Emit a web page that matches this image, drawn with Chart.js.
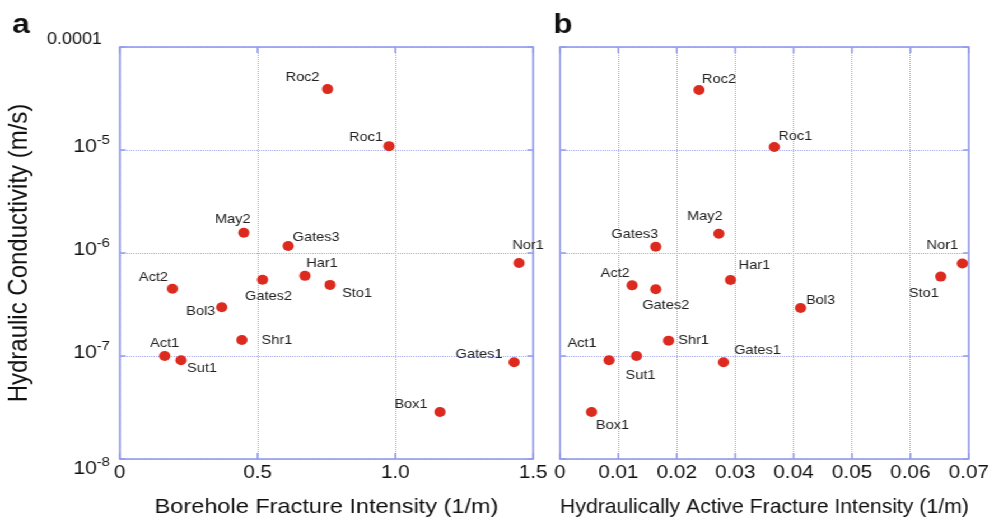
<!DOCTYPE html>
<html>
<head>
<meta charset="utf-8">
<script src="https://cdn.jsdelivr.net/npm/chart.js@4/dist/chart.umd.min.js"></script>
<style>
  html, body { margin: 0; background: #fff; overflow: hidden; }
  /* the reference figure is stretched sideways, so the whole drawing is too */
  #wrap { position: relative; width: 886px; height: 518px; transform: scaleX(1.12); transform-origin: 0 0; }
  #cA { position: absolute; left: 0; top: 0; }
  #cB { position: absolute; left: 480px; top: 0; }
</style>
</head>
<body>
<div id="wrap">
  <canvas id="cA" width="495" height="518"></canvas>
  <canvas id="cB" width="406" height="518"></canvas>
</div>
<script>
// ---- data ----
const names = ['Roc2', 'Roc1', 'May2', 'Gates3', 'Nor1', 'Act2', 'Gates2', 'Har1',
    'Sto1', 'Bol3', 'Shr1', 'Act1', 'Sut1', 'Gates1', 'Box1'];

// a: borehole fracture intensity (1/m)
const bfi = [0.754, 0.977, 0.450, 0.611, 1.449, 0.191, 0.518, 0.672,
    0.763, 0.370, 0.443, 0.163, 0.222, 1.431, 1.162];
const kA = [3.9e-5, 1.09e-5, 1.57e-6, 1.17e-6, 8.0e-7, 4.5e-7, 5.5e-7, 6.0e-7,
    4.9e-7, 2.97e-7, 1.43e-7, 1.0e-7, 9.1e-8, 8.7e-8, 2.86e-8];

// b: hydraulically active fracture intensity (1/m)
const hafi = [0.0238, 0.0367, 0.0272, 0.0164, 0.0689, 0.01235, 0.0164, 0.0292,
    0.0652, 0.0412, 0.0186, 0.0084, 0.0131, 0.0280, 0.0054];
const kB = [3.83e-5, 1.07e-5, 1.54e-6, 1.15e-6, 7.9e-7, 4.85e-7, 4.45e-7, 5.47e-7,
    5.9e-7, 2.92e-7, 1.41e-7, 9.1e-8, 1.0e-7, 8.7e-8, 2.86e-8];

const xTicksA = [0, 0.5, 1, 1.5];
const xTicksB = [0, 0.01, 0.02, 0.03, 0.04, 0.05, 0.06, 0.07];
const yTicks = [1e-8, 1e-7, 1e-6, 1e-5, 1e-4];
const yTickBase = ['10', '10', '10', '10', '0.0001'];
const yTickExp = ['-8', '-7', '-6', '-5', ''];

// label placement: text centre relative to the point, screen px
const labOffA = [[-25, -12], [-23, -9], [-11, -13], [28, -9], [9, -18], [-19, -11], [6, 17], [17, -12],
    [27, 9], [-21, 4], [35, 0], [0, -13], [21, 8], [-35, -8], [-29, -8]];
const labOffB = [[20, -11], [21, -11], [-14, -17], [-21, -12], [-20, -18], [-17, -12], [10, 16], [24, -15],
    [-17, 17], [20, -8], [25, 0], [-27, -17], [4, 19], [34, -12], [21, 13]];
// vertical nudge of each y tick label against its grid line
const yTickShift = [10, -3, -3, -3, -7];

// ---- style ----
const S = 1.12;
const RED = '#dd2a1e';
const BORDER = '#939cee';
const GRID = '#9ea5f0';
const FONT = "'Liberation Sans', Arial, sans-serif";
Chart.defaults.font.family = FONT;

function makeDecor(cfg) {
    return {
        id: 'decor',
        beforeDatasetsDraw(chart) {
            const { ctx, chartArea: a, scales: { x, y } } = chart;
            ctx.save();
            ctx.strokeStyle = BORDER;
            ctx.lineWidth = 1.6;
            ctx.strokeRect(a.left, a.top, a.right - a.left, a.bottom - a.top);
            ctx.beginPath();
            x.ticks.forEach(t => {
                const px = x.getPixelForValue(t.value);
                ctx.moveTo(px, a.bottom); ctx.lineTo(px, a.bottom - 6);
                ctx.moveTo(px, a.top); ctx.lineTo(px, a.top + 6);
            });
            y.ticks.forEach(t => {
                const py = y.getPixelForValue(t.value);
                ctx.moveTo(a.left, py); ctx.lineTo(a.left + 6 / S, py);
                ctx.moveTo(a.right, py); ctx.lineTo(a.right - 6 / S, py);
            });
            ctx.stroke();
            ctx.restore();
        },
        afterDatasetsDraw(chart) {
            const { ctx, chartArea: a, scales: { y } } = chart;
            ctx.save();
            ctx.fillStyle = '#222';
            ctx.textAlign = 'center';
            ctx.textBaseline = 'middle';
            ctx.font = '13px ' + FONT;
            chart.getDatasetMeta(0).data.forEach((pt, i) => {
                const [dx, dy] = cfg.offsets[i];
                ctx.fillText(names[i], pt.x + dx / S, pt.y + dy);
            });

            // panel letter
            ctx.fillStyle = '#111';
            ctx.textAlign = 'left';
            ctx.textBaseline = 'alphabetic';
            ctx.font = 'bold 28px ' + FONT;
            ctx.fillText(cfg.letter, cfg.letterX, 33);

            // y tick labels with superscript exponents (panel a only)
            if (cfg.yLabels) {
                ctx.textAlign = 'right';
                ctx.textBaseline = 'middle';
                yTicks.forEach((v, i) => {
                    const py = y.getPixelForValue(v) + yTickShift[i];
                    if (yTickExp[i]) {
                        const ex = a.left - 10 / S;
                        ctx.font = '13px ' + FONT;
                        ctx.fillText(yTickExp[i], ex, py - 7);
                        const w = ctx.measureText(yTickExp[i]).width;
                        ctx.font = '19px ' + FONT;
                        ctx.fillText(yTickBase[i], ex - w, py);
                    } else {
                        ctx.font = '16px ' + FONT;
                        ctx.fillText(yTickBase[i], a.left - 18 / S, py);
                    }
                });
            }
            ctx.restore();
        }
    };
}

function makeChart(id, xs, ys, xTicks, xTitle, cfg) {
    const data = xs.map((x, i) => ({ x, y: ys[i] }));
    return new Chart(document.getElementById(id), {
        type: 'scatter',
        data: {
            datasets: [{
                data, backgroundColor: RED, borderWidth: 0, pointRadius: 5,
                pointHoverRadius: 5, clip: false,
            }]
        },
        options: {
            responsive: false,
            animation: false,
            events: [],
            layout: { padding: { top: 47, right: cfg.padRight, bottom: 0, left: 0 } },
            plugins: { legend: { display: false }, tooltip: { enabled: false } },
            scales: {
                x: {
                    type: 'linear', min: xTicks[0], max: xTicks[xTicks.length - 1],
                    afterBuildTicks: s => { s.ticks = xTicks.map(v => ({ value: v })); },
                    afterFit: s => { s.height = 59; },
                    grid: { color: GRID, lineWidth: 1, drawTicks: false },
                    border: { display: false, dash: [1, 1] },
                    ticks: { color: '#111', font: { size: 18.5 }, padding: 3, maxRotation: 0, autoSkip: false },
                    title: {
                        display: true, text: xTitle, color: '#111',
                        font: { size: 21, lineHeight: 1 }, padding: 0
                    }
                },
                y: {
                    type: 'logarithmic', min: yTicks[0], max: yTicks[yTicks.length - 1],
                    afterBuildTicks: s => { s.ticks = yTicks.map(v => ({ value: v })); },
                    afterFit: s => { s.width = cfg.yWidth; },
                    grid: { color: GRID, lineWidth: 1, drawTicks: false },
                    border: { display: false, dash: [1, 1] },
                    ticks: { display: false },
                    title: {
                        display: !!cfg.yTitle, text: cfg.yTitle || '', color: '#111',
                        font: { size: 24, lineHeight: 1 }, padding: { top: 5, bottom: 0 }
                    }
                }
            }
        },
        plugins: [makeDecor(cfg)]
    });
}

makeChart('cA', bfi, kA, xTicksA, 'Borehole Fracture Intensity (1/m)', {
    offsets: labOffA, letter: 'a', letterX: 11, yLabels: true,
    yTitle: 'Hydraulic Conductivity (m/s)', yWidth: 107, padRight: 19
});
makeChart('cB', hafi, kB, xTicksB, 'Hydraulically Active Fracture Intensity (1/m)', {
    offsets: labOffB, letter: 'b', letterX: 14, yLabels: false,
    yWidth: 20, padRight: 18
});
</script>
</body>
</html>
